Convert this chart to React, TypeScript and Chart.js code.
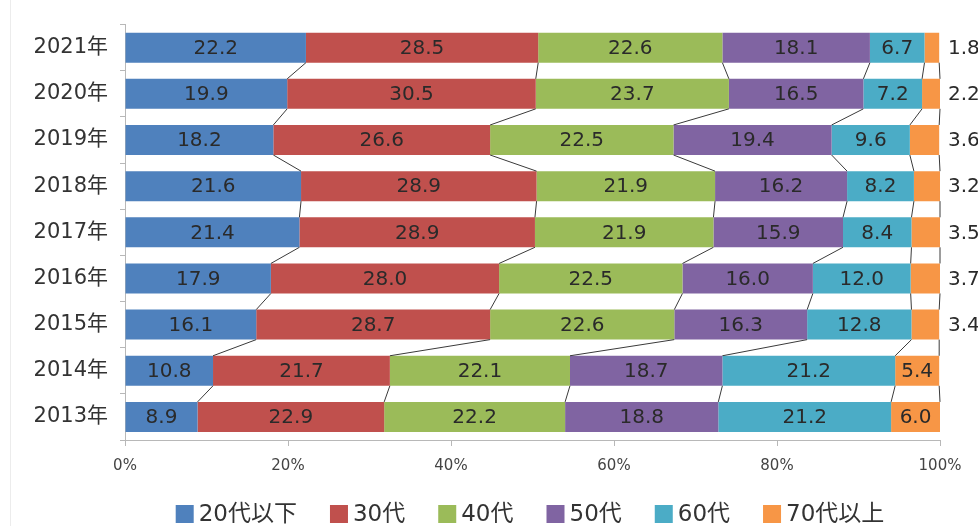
import React, { useEffect, useRef } from "react";
import { Chart, registerables } from "chart.js";

Chart.register(...registerables);

const years = ["2021年", "2020年", "2019年", "2018年", "2017年", "2016年", "2015年", "2014年", "2013年"];
const seriesNames = ["20代以下", "30代", "40代", "50代", "60代", "70代以上"];
const seriesColors = ["#4F81BD", "#C0504D", "#9BBB59", "#8064A2", "#4BACC6", "#F79646"];
const age20 = [22.2, 19.9, 18.2, 21.6, 21.4, 17.9, 16.1, 10.8, 8.9];
const age30 = [28.5, 30.5, 26.6, 28.9, 28.9, 28.0, 28.7, 21.7, 22.9];
const age40 = [22.6, 23.7, 22.5, 21.9, 21.9, 22.5, 22.6, 22.1, 22.2];
const age50 = [18.1, 16.5, 19.4, 16.2, 15.9, 16.0, 16.3, 18.7, 18.8];
const age60 = [6.7, 7.2, 9.6, 8.2, 8.4, 12.0, 12.8, 21.2, 21.2];
const age70 = [1.8, 2.2, 3.6, 3.2, 3.5, 3.7, 3.4, 5.4, 6.0];
const seriesValues = [age20, age30, age40, age50, age60, age70];
const xMin = 0;
const xMax = 100;
const xStep = 20;

const FONT = "'DejaVu Sans', 'Noto Sans CJK JP', sans-serif";

const borderPlugin = {
  id: "pageBorder",
  beforeDraw(chart: any) {
    const ctx = chart.ctx;
    ctx.save();
    ctx.strokeStyle = "#ececec";
    ctx.lineWidth = 1;
    ctx.beginPath();
    ctx.moveTo(10.5, 0);
    ctx.lineTo(10.5, chart.height);
    ctx.stroke();
    ctx.restore();
  },
};

const seriesLinesPlugin = {
  id: "seriesLines",
  afterDatasetsDraw(chart: any) {
    const ctx = chart.ctx;
    ctx.save();
    ctx.strokeStyle = "#3a3a3a";
    ctx.lineWidth = 1;
    chart.data.datasets.forEach((_ds: any, i: number) => {
      const meta = chart.getDatasetMeta(i);
      for (let j = 0; j < meta.data.length - 1; j++) {
        const a: any = meta.data[j];
        const b: any = meta.data[j + 1];
        const ax = Math.min(a.x, chart.chartArea.right);
        const bx = Math.min(b.x, chart.chartArea.right);
        ctx.beginPath();
        ctx.moveTo(ax, a.y + a.height / 2);
        ctx.lineTo(bx, b.y - b.height / 2);
        ctx.stroke();
      }
    });
    ctx.restore();
  },
};

const valueLabelsPlugin = {
  id: "valueLabels",
  afterDatasetsDraw(chart: any) {
    const ctx = chart.ctx;
    ctx.save();
    ctx.font = `20px ${FONT}`;
    ctx.fillStyle = "#2a2a2a";
    ctx.textBaseline = "middle";
    const last = chart.data.datasets.length - 1;
    chart.data.datasets.forEach((ds: any, i: number) => {
      const meta = chart.getDatasetMeta(i);
      meta.data.forEach((el: any, j: number) => {
        const v = ds.data[j];
        const text = v.toFixed(1);
        if (i === last && v < 5) {
          ctx.textAlign = "left";
          ctx.fillText(text, chart.chartArea.right + 8, el.y + 1);
        } else {
          ctx.textAlign = "center";
          const right = Math.min(el.x, chart.chartArea.right);
          ctx.fillText(text, (el.base + right) / 2, el.y + 1);
        }
      });
    });
    ctx.restore();
  },
};

const legendPlugin = {
  id: "customLegend",
  afterDraw(chart: any) {
    const ctx = chart.ctx;
    ctx.save();
    ctx.font = `23px ${FONT}`;
    ctx.textBaseline = "middle";
    ctx.textAlign = "left";
    const box = 18;
    const boxGap = 5;
    const itemGap = 33;
    const widths = chart.data.datasets.map((ds: any) => box + boxGap + ctx.measureText(ds.label).width);
    const total = widths.reduce((s: number, w: number) => s + w, 0) + itemGap * (widths.length - 1);
    let x = 530 - total / 2;
    const cy = 514;
    chart.data.datasets.forEach((ds: any, i: number) => {
      ctx.fillStyle = ds.backgroundColor;
      ctx.fillRect(x, cy - box / 2, box, box);
      ctx.fillStyle = "#333";
      ctx.fillText(ds.label, x + box + boxGap, cy + 1);
      x += widths[i] + itemGap;
    });
    ctx.restore();
  },
};

export default function App() {
  const ref = useRef<HTMLCanvasElement | null>(null);

  useEffect(() => {
    if (!ref.current) return;
    const chart = new Chart(ref.current, {
      type: "bar",
      data: {
        labels: years,
        datasets: seriesNames.map((name, i) => ({
          label: name,
          data: seriesValues[i],
          backgroundColor: seriesColors[i],
          borderWidth: 0,
          barPercentage: 0.65,
          categoryPercentage: 1,
        })),
      },
      options: {
        indexAxis: "y",
        animation: false,
        responsive: false,
        devicePixelRatio: 1,
        layout: { padding: { top: 10, right: 38, bottom: 56, left: 0 } },
        plugins: {
          legend: { display: false },
          tooltip: { enabled: false },
        },
        scales: {
          x: {
            stacked: true,
            min: xMin,
            max: xMax,
            ticks: {
              stepSize: xStep,
              callback: (v: any) => `${v}%`,
              font: { family: FONT, size: 15 },
              color: "#444",
              padding: 11,
              maxRotation: 0,
            },
            grid: { drawOnChartArea: false, tickLength: 6, color: "#b8b8b8" },
            border: { color: "#b8b8b8" },
            afterFit: (s: any) => {
              s.height = 30;
            },
          },
          y: {
            stacked: true,
            ticks: {
              font: { family: FONT, size: 21 },
              color: "#333",
              padding: 12,
            },
            grid: { drawOnChartArea: false, tickLength: 5, color: "#b8b8b8", offset: true },
            border: { color: "#b8b8b8" },
            afterFit: (s: any) => {
              s.width = 125;
            },
          },
        },
      },
      plugins: [borderPlugin, seriesLinesPlugin, valueLabelsPlugin, legendPlugin],
    } as any);
    return () => chart.destroy();
  }, []);

  return (
    <div style={{ position: "fixed", left: 0, top: 0, width: 978, height: 526, background: "#fff" }}>
      <canvas ref={ref} width={978} height={526} style={{ display: "block" }} />
    </div>
  );
}
